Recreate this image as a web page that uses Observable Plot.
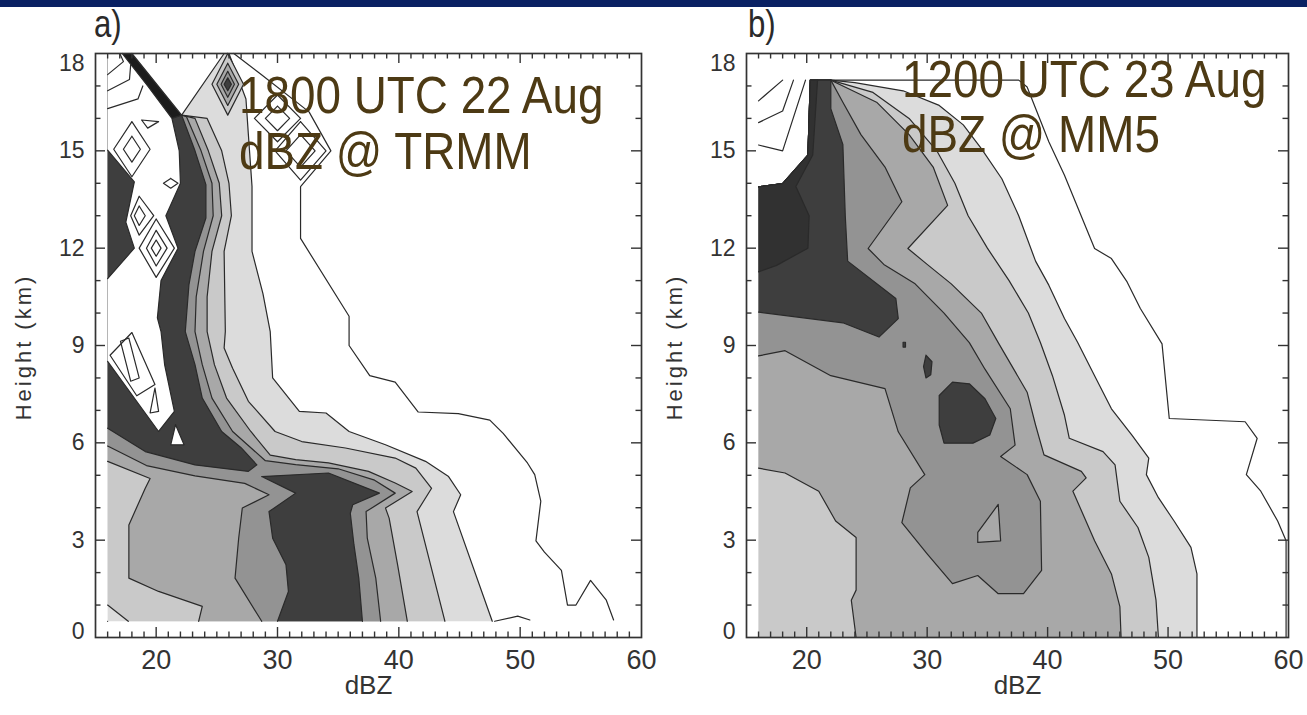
<!DOCTYPE html>
<html>
<head>
<meta charset="utf-8">
<script src="https://cdn.jsdelivr.net/npm/d3@7"></script>
<script src="https://cdn.jsdelivr.net/npm/@observablehq/plot@0.6"></script>
<style>
html,body{margin:0;padding:0;background:#fff;}
#page{position:relative;width:1307px;height:715px;overflow:hidden;background:#fff;font-family:"Liberation Sans",Arial,sans-serif;}
#bar{position:absolute;left:0;top:0;width:1307px;height:7px;background:#0a2163;}
.panel{position:absolute;top:0;}
.plabel{position:absolute;font-size:38px;line-height:1;color:#2a2a2a;transform:scaleX(0.82);transform-origin:0 0;}
.note{position:absolute;font-size:51.5px;line-height:1;color:#4d3a14;white-space:nowrap;transform:scaleX(0.89);transform-origin:0 0;}
.ytitle{position:absolute;font-size:22px;line-height:1;color:#333;white-space:nowrap;letter-spacing:3px;transform:translate(-50%,-50%) rotate(-90deg);}
</style>
</head>
<body>
<div id="page">
  <div id="pa" class="panel" style="left:0px"></div>
  <div id="pb" class="panel" style="left:650px"></div>
  <div id="bar"></div>
  <div class="plabel" style="left:94px;top:5px">a)</div>
  <div class="plabel" style="left:748px;top:5px">b)</div>
  <div class="ytitle" style="left:24px;top:347px">Height (km)</div>
  <div class="ytitle" style="left:675px;top:347px">Height (km)</div>
  <div class="note" style="left:239px;top:70px">1800 UTC 22 Aug</div>
  <div class="note" style="left:239px;top:126px">dBZ @ TRMM</div>
  <div class="note" style="left:902px;top:54px">1200 UTC 23 Aug</div>
  <div class="note" style="left:902px;top:109px">dBZ @ MM5</div>
</div>
<script>
// ---------------- axes ----------------
const xTickLabels = [20, 30, 40, 50, 60];
const yTickLabels = [0, 3, 6, 9, 12, 15, 18];
const xDomain = [15, 60];
const yDomain = [0, 18];

// ---------------- panel a (TRMM) : contour polygons [dBZ, km] ----------------
const aL1 = [[16,0.5],[47.7,0.5],[44.5,3.88],[45.1,4.4],[44.1,4.96],[42.2,5.43],[38.9,5.94],[35.9,6.35],[34.0,6.92],[31.8,6.97],[29.6,8.0],[29.4,9.43],[28.8,10.6],[27.9,11.9],[27.9,13.9],[27.6,15.5],[27.4,16.6],[26.0,18],[18.0,18],[16,18]];
const aL2 = [[17.7,0.5],[43.8,0.5],[41.5,3.88],[42.7,4.6],[41.4,5.22],[39.7,5.53],[35.6,5.84],[32.0,6.04],[29.8,6.35],[27.6,7.28],[26.3,8.3],[25.6,8.92],[25.7,9.43],[25.6,11.9],[26.2,13.0],[26.0,14.0],[25.4,15.0],[24.2,16.0],[22.1,16.1],[18.0,18],[16,18],[16,1.0]];
const aL3 = [[23.5,0.5],[40.7,0.5],[39.9,2.24],[39.2,3.68],[38.9,3.99],[41.1,4.5],[39.7,4.76],[37.5,5.12],[34.2,5.38],[31.5,5.48],[29.4,5.62],[27.8,6.35],[25.8,7.38],[24.8,8.41],[24.2,9.43],[24.2,10.5],[24.6,11.9],[25.4,13.0],[25.2,14.0],[24.3,15.0],[23.2,16.0],[22.1,16.1],[18.0,18],[16,18],[16,5.43],[19.5,4.9],[19.1,4.6],[17.75,3.47],[17.75,1.83],[20.2,1.42],[23.8,0.96]];
const aL4 = [[28.7,0.5],[38.5,0.5],[38.1,1.83],[37.4,3.06],[37.3,3.88],[39.7,4.45],[38.0,4.85],[35.0,5.2],[31.5,5.33],[29.0,5.45],[26.3,6.35],[24.6,7.38],[23.8,8.41],[23.2,9.43],[23.3,10.5],[23.9,11.9],[24.7,13.0],[24.6,14.0],[23.7,15.0],[22.5,16.05],[22.1,16.1],[18.0,18],[16,18],[16,5.9],[19.2,5.3],[23.2,4.98],[27.3,4.75],[29.3,4.4],[27.1,3.99],[26.8,3.06],[26.5,1.83]];
const aL5top = [[16,6.45],[19.1,5.73],[23.2,5.32],[27.6,5.12],[28.3,5.32],[27.0,5.85],[25.4,6.35],[23.8,7.38],[23.2,8.41],[22.4,9.43],[22.7,10.87],[23.2,11.9],[24.1,12.93],[24.1,13.96],[23.2,15.0],[22.1,16.1],[18.0,18],[16,18]];
const aL5core = [[28.7,4.96],[34.2,5.07],[38.4,4.45],[36.2,4.09],[36.0,3.83],[36.3,2.86],[36.7,1.83],[37.0,0.5],[30.0,0.5],[30.9,1.42],[30.7,2.24],[29.6,3.06],[29.3,3.88],[31.5,4.45]];
const aStreak = [[17.2,18],[18.0,18],[22.1,16.1],[21.3,16.0]];
const aHole = [[16,18],[17.2,18],[19.3,17.0],[21.3,16.0],[21.9,15.0],[22.0,14.0],[20.8,13.0],[21.8,12.0],[20.4,11.0],[20.1,9.85],[20.4,9.43],[20.7,8.4],[21.5,6.97],[20.2,6.35],[16,8.51],[16,11.06],[18.2,12.0],[17.5,12.8],[18.2,14.04],[16,15.02]];
const aHole2 = [[21.6,6.56],[22.3,5.94],[21.2,5.94]];
const aGap = [[18.0,18],[25.6,18],[22.1,16.1]];
const aPeak2 = [[25.9,18.0],[27.2,17.05],[25.9,16.1],[24.6,17.05]];
const aPeak3 = [[25.9,17.7],[26.8,17.05],[25.9,16.4],[25.0,17.05]];
const aPeak4 = [[25.9,17.45],[26.45,17.05],[25.9,16.65],[25.35,17.05]];
const aPeak5 = [[25.9,17.25],[26.2,17.05],[25.9,16.85],[25.6,17.05]];
// unfilled contour lines
const aOuter = [[26.4,18],[28.5,17.4],[32.6,16.2],[34.4,15.0],[31.9,13.9],[31.9,12.3],[35.9,9.9],[35.9,9.0],[37.6,8.07],[39.7,7.87],[41.6,6.95],[44.9,6.9],[47.5,6.7],[48.6,6.29],[50.6,5.38],[51.2,5.02],[51.7,4.2],[51.3,2.98],[52.0,2.63],[53.4,2.07],[53.9,1.0],[54.6,1.0],[55.8,1.76],[57.1,1.15],[57.7,0.54]];
const aOuterBump = [[47.9,0.5],[49.8,0.66],[50.8,0.54]];
const aDiaA1 = [[30.0,16.72],[31.9,16.0],[30.0,15.28],[28.1,16.0]];
const aDiaA2 = [[30.0,16.38],[31.0,16.0],[30.0,15.62],[29.0,16.0]];
const aDiaB1 = [[31.9,15.9],[34.0,15.0],[31.9,14.1],[29.8,15.0]];
const aDiaB2 = [[31.9,15.5],[33.1,15.0],[31.9,14.5],[30.7,15.0]];
const aD1o = [[18.0,15.9],[19.5,15.05],[18.0,14.2],[16.5,15.05]];
const aD1i = [[18.0,15.45],[18.7,15.05],[18.0,14.65],[17.3,15.05]];
const aD2 = [[21.2,14.15],[21.8,14.0],[21.2,13.85],[20.6,14.0]];
const aD3o = [[18.6,13.6],[19.8,13.0],[18.6,12.4],[17.9,13.0]];
const aD3i = [[18.6,13.3],[19.1,13.0],[18.6,12.7],[18.2,13.0]];
const aD4o = [[20.0,12.9],[21.5,12.0],[20.0,11.1],[18.6,12.0]];
const aD4m = [[20.0,12.55],[20.9,12.0],[20.0,11.45],[19.2,12.0]];
const aD4i = [[20.0,12.25],[20.4,12.0],[20.0,11.75],[19.6,12.0]];
const aD5o = [[16.2,8.7],[18.0,9.4],[19.9,7.8],[18.4,7.45]];
const aD5i = [[17.06,9.13],[17.75,9.23],[18.6,8.0],[17.9,7.9]];
const aD6 = [[19.9,7.69],[20.2,6.97],[19.5,6.92]];
const aFan1 = [[16,17.35],[17.3,17.75],[17.0,18]];
const aFan2 = [[16,16.85],[17.8,17.2],[17.9,17.65]];
const aFan3 = [[16,16.3],[18.5,16.6],[18.9,17.0]];
const aSmall = [[18.8,15.95],[20.2,15.9],[19.3,15.7]];

// ---------------- panel b (MM5) ----------------
const bL1 = [[16,0],[52.4,0],[52.4,1.96],[51.9,2.78],[50.5,3.59],[49.2,4.31],[48.2,5.02],[48.4,5.53],[47.0,6.24],[45.3,7.05],[43.9,8.07],[42.5,9.09],[41.4,9.83],[40.1,10.86],[39.0,11.6],[37.6,13.0],[36.2,14.14],[34.5,15.07],[33.0,15.8],[31.0,16.4],[28.0,16.85],[24.0,17.1],[22.0,17.18],[20.3,17.18],[20.1,14.87],[18.0,13.99],[16,13.89]];
const bL2 = [[16,0],[49.2,0],[49.0,1.15],[48.4,2.47],[47.5,3.39],[46.0,4.2],[45.6,5.32],[44.6,5.73],[41.8,6.14],[41.4,6.85],[40.4,8.07],[39.4,9.09],[38.4,10.0],[36.8,11.0],[35.0,12.0],[33.4,13.0],[32.3,14.0],[30.8,15.0],[28.5,16.0],[25.5,16.8],[22.0,17.18],[20.3,17.18],[20.1,14.87],[18.0,13.99],[16,13.89]];
const bL3 = [[24.1,0],[46.1,0],[46.0,0.95],[45.3,1.96],[43.9,2.98],[42.1,4.51],[43.2,4.92],[42.8,5.12],[39.7,5.63],[39.0,6.55],[38.3,7.56],[35.9,9.09],[34.5,10.0],[32.0,10.9],[30.0,11.5],[28.4,11.99],[31.7,13.32],[30.5,14.5],[28.5,15.5],[25.8,16.5],[23.0,17.0],[22.0,17.18],[20.3,17.18],[20.1,14.87],[18.0,13.99],[16,13.89],[16,5.22],[18.2,5.07],[21.0,4.51],[22.4,3.59],[24.1,3.08],[24.1,1.46],[23.7,1.15]];
const bL4 = [[16,8.68],[18.2,8.84],[22.0,8.07],[26.5,7.67],[27.6,6.34],[29.8,5.02],[28.6,4.61],[27.9,3.54],[30.0,2.58],[32.1,1.66],[34.2,1.91],[35.9,1.35],[38.0,1.35],[39.5,2.07],[39.4,4.2],[38.3,5.02],[36.1,5.58],[37.3,5.93],[36.9,7.05],[34.8,8.27],[33.5,9.09],[31.4,10.0],[29.0,10.9],[26.4,11.5],[25.1,11.99],[27.9,13.43],[26.5,14.5],[24.5,15.5],[23.0,16.5],[22.0,17.18],[20.3,17.18],[20.1,14.87],[18.0,13.99],[16,13.89]];
const bTri = [[35.9,4.1],[36.1,2.98],[34.2,2.93],[34.2,3.24]];
const bL5 = [[20.3,17.18],[22.0,17.18],[22.0,16.3],[23.0,15.2],[23.2,13.0],[23.4,11.6],[27.4,10.45],[27.6,9.83],[26.0,9.26],[23.0,9.7],[16,10.03],[16,13.89],[18.0,13.99],[20.1,14.87]];
const bL6 = [[16,11.27],[17.5,11.47],[20.1,12.0],[20.2,13.0],[19.1,13.9],[20.5,14.87],[20.9,17.18],[20.3,17.18],[20.1,14.87],[18.0,13.99],[16,13.89]];
const bBlob = [[31.0,7.46],[32.1,7.87],[33.5,7.82],[34.8,7.36],[35.7,6.75],[35.2,6.24],[33.8,5.99],[31.4,5.99],[31.0,6.55]];
const bBlob2 = [[29.9,8.7],[30.4,8.5],[30.3,8.1],[29.9,8.0],[29.7,8.35]];
const bDot = [[28.0,9.1],[28.2,9.1],[28.2,8.95],[28.0,8.95]];
const bOuter = [[22.0,17.18],[37.6,17.18],[38.3,16.97],[40.1,15.28],[41.4,14.25],[43.9,11.99],[45.3,11.68],[46.6,10.96],[47.7,10.14],[49.5,9.05],[50.1,6.75],[56.4,6.65],[57.4,6.14],[56.5,5.02],[57.7,4.51],[59.1,3.59],[59.8,2.98],[59.8,0]];
const bFan1 = [[16,16.54],[18.0,17.18]];
const bFan2 = [[16,15.87],[18.0,16.23],[18.9,17.18]];
const bFan3 = [[16,15.18],[18.0,15.0],[19.9,17.18]];

// ---------------- drawing ----------------
const shade = ["#dcdcdc", "#c9c9c9", "#a8a8a8", "#939393", "#3e3e3e"];
const lineColor = "#2a2a2a";

// break the outline where it runs along the data edge (no contour line there)
function edgeBroken(pts, left, bottom, closed) {
  const out = [pts[0]];
  const n = pts.length;
  const segs = closed ? n : n - 1;
  for (let i = 0; i < segs; i++) {
    const p = pts[i], q = pts[(i + 1) % n];
    const onEdge = (p[0] === left && q[0] === left) || (p[1] === bottom && q[1] === bottom);
    if (onEdge) out.push([NaN, NaN]);
    out.push(q);
  }
  return out;
}

function drawPanel(target, cfg) {
  const {width, marginLeft, marginRight, left, bottom, fills, lines} = cfg;
  const height = 715, marginTop = 53, marginBottom = 78;
  const fw = width - marginLeft - marginRight, fh = height - marginTop - marginBottom;
  const X = d => d[0], Y = d => d[1];
  const marks = [];
  for (const [pts, color] of fills) {
    marks.push(Plot.line(pts, {x: X, y: Y, curve: "linear-closed", fill: color, stroke: "none"}));
    marks.push(Plot.line(edgeBroken(pts, left, bottom, true), {x: X, y: Y, stroke: lineColor, strokeWidth: 1.2}));
  }
  for (const [pts, closed] of lines) {
    marks.push(Plot.line(edgeBroken(pts, left, bottom, closed), {x: X, y: Y, stroke: lineColor, strokeWidth: 1.2}));
  }
  const xMajor = xTickLabels.filter(v => v < xDomain[1]);
  const xMinor = d3.range(xDomain[0] + 1, xDomain[1]).filter(v => v % 10 !== 0);
  const yMajor = yTickLabels.filter(v => v > yDomain[0] && v < yDomain[1]);
  const yMinor = d3.range(yDomain[0] + 1, yDomain[1]).filter(v => v % 3 !== 0);
  const tk = {stroke: "#333", strokeWidth: 1.4};
  marks.push(
    Plot.tickX(xMajor, {x: d => d, insetTop: fh - 10, ...tk}),
    Plot.tickX(xMajor, {x: d => d, insetBottom: fh - 10, ...tk}),
    Plot.tickX(xMinor, {x: d => d, insetTop: fh - 5.5, ...tk}),
    Plot.tickX(xMinor, {x: d => d, insetBottom: fh - 5.5, ...tk}),
    Plot.tickY(yMajor, {y: d => d, insetRight: fw - 10, ...tk}),
    Plot.tickY(yMajor, {y: d => d, insetLeft: fw - 10, ...tk}),
    Plot.tickY(yMinor, {y: d => d, insetRight: fw - 5.5, ...tk}),
    Plot.tickY(yMinor, {y: d => d, insetLeft: fw - 5.5, ...tk}),
    Plot.frame({stroke: "#333", strokeWidth: 1.7}),
    Plot.text(xTickLabels, {x: d => d, text: d => String(d), frameAnchor: "bottom", dy: 31, fontSize: 27, fill: "#333"}),
    Plot.text(yTickLabels.filter(v => v > 0 && v < 18), {y: d => d, text: d => String(d), frameAnchor: "left", textAnchor: "end", dx: -11, fontSize: 23, fill: "#333"}),
    Plot.text([0], {y: d => d, text: d => String(d), frameAnchor: "left", textAnchor: "end", dx: -11, dy: -6, fontSize: 23, fill: "#333"}),
    Plot.text([18], {y: d => d, text: d => String(d), frameAnchor: "left", textAnchor: "end", dx: -11, dy: 10, fontSize: 23, fill: "#333"}),
    Plot.text(["dBZ"], {text: d => d, frameAnchor: "bottom", dy: 56, fontSize: 26, fill: "#333"})
  );
  const svg = Plot.plot({
    width, height, marginLeft, marginRight, marginTop, marginBottom,
    x: {domain: xDomain, axis: null},
    y: {domain: yDomain, axis: null},
    style: {fontFamily: "'Liberation Sans', Arial, sans-serif", background: "transparent", overflow: "visible"},
    marks
  });
  document.getElementById(target).appendChild(svg);
}

drawPanel("pa", {
  width: 650, marginLeft: 95, marginRight: 9, left: 16, bottom: 0.5,
  fills: [
    [aL1, shade[0]], [aL2, shade[1]], [aL3, shade[2]], [aL4, shade[3]],
    [aL5top, shade[4]], [aL5core, shade[4]], [aStreak, "#1c1c1c"],
    [aHole, "#ffffff"], [aHole2, "#ffffff"], [aGap, "#ffffff"],
    [aPeak2, shade[1]], [aPeak3, shade[2]], [aPeak4, shade[3]], [aPeak5, shade[4]]
  ],
  lines: [
    [aOuter, false], [aOuterBump, false],
    [aDiaA1, true], [aDiaA2, true], [aDiaB1, true], [aDiaB2, true],
    [aD1o, true], [aD1i, true], [aD2, true], [aD3o, true], [aD3i, true],
    [aD4o, true], [aD4m, true], [aD4i, true], [aD5o, true], [aD5i, true], [aD6, true],
    [aFan1, false], [aFan2, false], [aFan3, false], [aSmall, true]
  ]
});

drawPanel("pb", {
  width: 657, marginLeft: 96, marginRight: 19, left: 16, bottom: 0,
  fills: [
    [bL1, shade[0]], [bL2, shade[1]], [bL3, shade[2]], [bL4, shade[3]], [bTri, shade[2]],
    [bL5, shade[4]], [bL6, "#313131"], [bBlob, shade[4]], [bBlob2, shade[4]], [bDot, shade[4]]
  ],
  lines: [[bOuter, false], [bFan1, false], [bFan2, false], [bFan3, false]]
});
</script>
</body>
</html>
